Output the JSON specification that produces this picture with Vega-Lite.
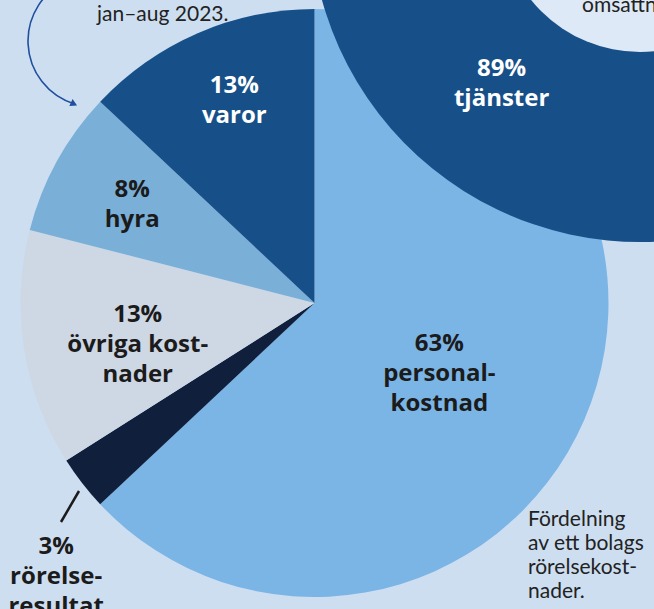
{
  "$schema": "https://vega.github.io/schema/vega-lite/v6.json",
  "width": 654,
  "height": 609,
  "autosize": {"type": "none"},
  "padding": 0,
  "background": "#cddef1",
  "config": {"view": {"stroke": null}, "font": "Lato"},
  "datasets": {
    "kostnader": [
      {"kategori": "personalkostnad", "andel": 63, "ordning": 1, "etikett": "63%\npersonal-\nkostnad"},
      {"kategori": "rörelseresultat", "andel": 3, "ordning": 2, "etikett": "3%\nrörelse-\nresultat"},
      {"kategori": "övriga kostnader", "andel": 13, "ordning": 3, "etikett": "13%\növriga kost-\nnader"},
      {"kategori": "hyra", "andel": 8, "ordning": 4, "etikett": "8%\nhyra"},
      {"kategori": "varor", "andel": 13, "ordning": 5, "etikett": "13%\nvaror"}
    ],
    "omsattning": [
      {"kategori": "tjänster", "andel": 89, "ordning": 1, "etikett": "89%\ntjänster"},
      {"kategori": "varor", "andel": 11, "ordning": 2, "etikett": "11%\nvaror"}
    ],
    "texter": [
      {"id": "period", "text": "jan–aug 2023."},
      {"id": "omsattning", "text": "omsättning"},
      {"id": "beskrivning", "text": "Fördelning\nav ett bolags\nrörelsekost-\nnader."}
    ]
  },
  "resolve": {"scale": {"theta": "independent", "color": "independent"}},
  "layer": [
    {
      "data": {"name": "kostnader"},
      "mark": {"type": "arc", "outerRadius": 294},
      "encoding": {
        "x": {"datum": 314.5, "type": "quantitative", "scale": {"type": "linear", "domain": [0, 654], "nice": false, "zero": false}, "axis": null},
        "y": {"datum": 303, "type": "quantitative", "scale": {"type": "linear", "domain": [0, 609], "nice": false, "zero": false, "reverse": true}, "axis": null},
        "theta": {"field": "andel", "type": "quantitative", "stack": true},
        "order": {"field": "ordning", "type": "quantitative"},
        "color": {"field": "kategori", "type": "nominal", "legend": null,
          "scale": {"domain": ["personalkostnad", "rörelseresultat", "övriga kostnader", "hyra", "varor"],
                    "range": ["#7bb5e6", "#0f1f3c", "#ced7e4", "#7aafd7", "#175088"]}}
      }
    },
    {
      "data": {"name": "omsattning"},
      "mark": {"type": "arc", "outerRadius": 330},
      "encoding": {
        "x": {"datum": 640, "type": "quantitative", "scale": {"type": "linear", "domain": [0, 654], "nice": false, "zero": false}, "axis": null},
        "y": {"datum": -88, "type": "quantitative", "scale": {"type": "linear", "domain": [0, 609], "nice": false, "zero": false, "reverse": true}, "axis": null},
        "theta": {"field": "andel", "type": "quantitative", "stack": true, "scale": {"range": [1.026, 7.309]}},
        "order": {"field": "ordning", "type": "quantitative"},
        "color": {"field": "kategori", "type": "nominal", "legend": null,
          "scale": {"domain": ["tjänster", "varor"], "range": ["#175088", "#7bb5e6"]}}
      }
    },
    {
      "data": {"name": "omsattning"},
      "transform": [{"filter": "datum.kategori === 'tjänster'"}],
      "mark": {"type": "arc", "outerRadius": 140, "theta": 0, "theta2": 6.2832, "color": "#dde9f6"},
      "encoding": {
        "x": {"datum": 640, "type": "quantitative", "axis": null},
        "y": {"datum": -88, "type": "quantitative", "axis": null}
      }
    },
    {
      "data": {"name": "omsattning"},
      "mark": {"type": "text", "radius": 220, "dy": -14, "font": "Open Sans", "fontWeight": "bold", "fontSize": 24, "lineHeight": 30, "lineBreak": "\n", "align": "center", "baseline": "middle", "color": "#ffffff"},
      "encoding": {
        "x": {"datum": 640, "type": "quantitative", "axis": null},
        "y": {"datum": -88, "type": "quantitative", "axis": null},
        "theta": {"field": "andel", "type": "quantitative", "stack": true, "scale": {"range": [1.026, 7.309]}},
        "order": {"field": "ordning", "type": "quantitative"},
        "detail": {"field": "kategori", "type": "nominal"},
        "text": {"condition": {"test": "datum.kategori === 'tjänster'", "field": "etikett", "type": "nominal"}, "value": ""}
      }
    },
    {
      "data": {"name": "kostnader"},
      "mark": {"type": "text", "radius": 222, "dx": 8, "dy": -13, "font": "Open Sans", "fontWeight": "bold", "fontSize": 24, "lineHeight": 30, "lineBreak": "\n", "align": "center", "baseline": "middle", "color": "#ffffff"},
      "encoding": {
        "x": {"datum": 314.5, "type": "quantitative", "axis": null},
        "y": {"datum": 303, "type": "quantitative", "axis": null},
        "theta": {"field": "andel", "type": "quantitative", "stack": true},
        "order": {"field": "ordning", "type": "quantitative"},
        "detail": {"field": "kategori", "type": "nominal"},
        "text": {"condition": {"test": "datum.kategori === 'varor'", "field": "etikett", "type": "nominal"}, "value": ""}
      }
    },
    {
      "data": {"name": "kostnader"},
      "mark": {"type": "text", "radius": 208, "dy": -13, "font": "Open Sans", "fontWeight": "bold", "fontSize": 24, "lineHeight": 30, "lineBreak": "\n", "align": "center", "baseline": "middle", "color": "#1b1b1b"},
      "encoding": {
        "x": {"datum": 314.5, "type": "quantitative", "axis": null},
        "y": {"datum": 303, "type": "quantitative", "axis": null},
        "theta": {"field": "andel", "type": "quantitative", "stack": true},
        "order": {"field": "ordning", "type": "quantitative"},
        "detail": {"field": "kategori", "type": "nominal"},
        "text": {"condition": {"test": "datum.kategori === 'hyra'", "field": "etikett", "type": "nominal"}, "value": ""}
      }
    },
    {
      "data": {"name": "kostnader"},
      "mark": {"type": "text", "radius": 179, "dy": -16, "font": "Open Sans", "fontWeight": "bold", "fontSize": 24, "lineHeight": 30, "lineBreak": "\n", "align": "center", "baseline": "middle", "color": "#1b1b1b"},
      "encoding": {
        "x": {"datum": 314.5, "type": "quantitative", "axis": null},
        "y": {"datum": 303, "type": "quantitative", "axis": null},
        "theta": {"field": "andel", "type": "quantitative", "stack": true},
        "order": {"field": "ordning", "type": "quantitative"},
        "detail": {"field": "kategori", "type": "nominal"},
        "text": {"condition": {"test": "datum.kategori === 'övriga kostnader'", "field": "etikett", "type": "nominal"}, "value": ""}
      }
    },
    {
      "data": {"name": "kostnader"},
      "mark": {"type": "text", "radius": 136, "dy": -13, "font": "Open Sans", "fontWeight": "bold", "fontSize": 24, "lineHeight": 30, "lineBreak": "\n", "align": "center", "baseline": "middle", "color": "#1b1b1b"},
      "encoding": {
        "x": {"datum": 314.5, "type": "quantitative", "axis": null},
        "y": {"datum": 303, "type": "quantitative", "axis": null},
        "theta": {"field": "andel", "type": "quantitative", "stack": true},
        "order": {"field": "ordning", "type": "quantitative"},
        "detail": {"field": "kategori", "type": "nominal"},
        "text": {"condition": {"test": "datum.kategori === 'personalkostnad'", "field": "etikett", "type": "nominal"}, "value": ""}
      }
    },
    {
      "data": {"name": "kostnader"},
      "mark": {"type": "text", "radius": 327, "dy": 44, "font": "Open Sans", "fontWeight": "bold", "fontSize": 24, "lineHeight": 30, "lineBreak": "\n", "align": "center", "baseline": "middle", "color": "#1b1b1b"},
      "encoding": {
        "x": {"datum": 314.5, "type": "quantitative", "axis": null},
        "y": {"datum": 303, "type": "quantitative", "axis": null},
        "theta": {"field": "andel", "type": "quantitative", "stack": true},
        "order": {"field": "ordning", "type": "quantitative"},
        "detail": {"field": "kategori", "type": "nominal"},
        "text": {"condition": {"test": "datum.kategori === 'rörelseresultat'", "field": "etikett", "type": "nominal"}, "value": ""}
      }
    },
    {
      "data": {"name": "kostnader"},
      "transform": [{"filter": "datum.kategori === 'rörelseresultat'"}],
      "mark": {"type": "rule", "color": "#1b1b1b", "strokeWidth": 2.5},
      "encoding": {
        "x": {"datum": 79, "type": "quantitative", "axis": null},
        "y": {"datum": 491, "type": "quantitative", "axis": null},
        "x2": {"datum": 61},
        "y2": {"datum": 522}
      }
    },
    {
      "data": {"name": "texter"},
      "transform": [{"filter": "datum.id === 'period'"}],
      "mark": {"type": "arc", "innerRadius": 66, "outerRadius": 66, "theta": 3.433, "theta2": 5.9, "filled": false, "stroke": "#1f4f9e", "strokeWidth": 1.6},
      "encoding": {
        "x": {"datum": 94, "type": "quantitative", "axis": null},
        "y": {"datum": 41, "type": "quantitative", "axis": null}
      }
    },
    {
      "data": {"name": "texter"},
      "transform": [{"filter": "datum.id === 'period'"}],
      "mark": {"type": "point", "shape": "triangle-right", "angle": 25, "size": 60, "filled": true, "color": "#1f4f9e", "opacity": 1},
      "encoding": {
        "x": {"datum": 74, "type": "quantitative", "axis": null},
        "y": {"datum": 104, "type": "quantitative", "axis": null}
      }
    },
    {
      "data": {"name": "texter"},
      "transform": [{"filter": "datum.id === 'period'"}],
      "mark": {"type": "text", "align": "left", "baseline": "alphabetic", "font": "Lato", "fontSize": 21, "color": "#222222"},
      "encoding": {
        "x": {"datum": 97, "type": "quantitative", "axis": null},
        "y": {"datum": 21, "type": "quantitative", "axis": null},
        "text": {"field": "text", "type": "nominal"}
      }
    },
    {
      "data": {"name": "texter"},
      "transform": [{"filter": "datum.id === 'omsattning'"}],
      "mark": {"type": "text", "align": "left", "baseline": "alphabetic", "font": "Lato", "fontSize": 21, "color": "#222222"},
      "encoding": {
        "x": {"datum": 582, "type": "quantitative", "axis": null},
        "y": {"datum": 12, "type": "quantitative", "axis": null},
        "text": {"field": "text", "type": "nominal"}
      }
    },
    {
      "data": {"name": "texter"},
      "transform": [{"filter": "datum.id === 'beskrivning'"}],
      "mark": {"type": "text", "align": "left", "baseline": "alphabetic", "font": "Lato", "fontSize": 21, "lineHeight": 24, "lineBreak": "\n", "color": "#222222"},
      "encoding": {
        "x": {"datum": 528, "type": "quantitative", "axis": null},
        "y": {"datum": 526, "type": "quantitative", "axis": null},
        "text": {"field": "text", "type": "nominal"}
      }
    }
  ]
}
